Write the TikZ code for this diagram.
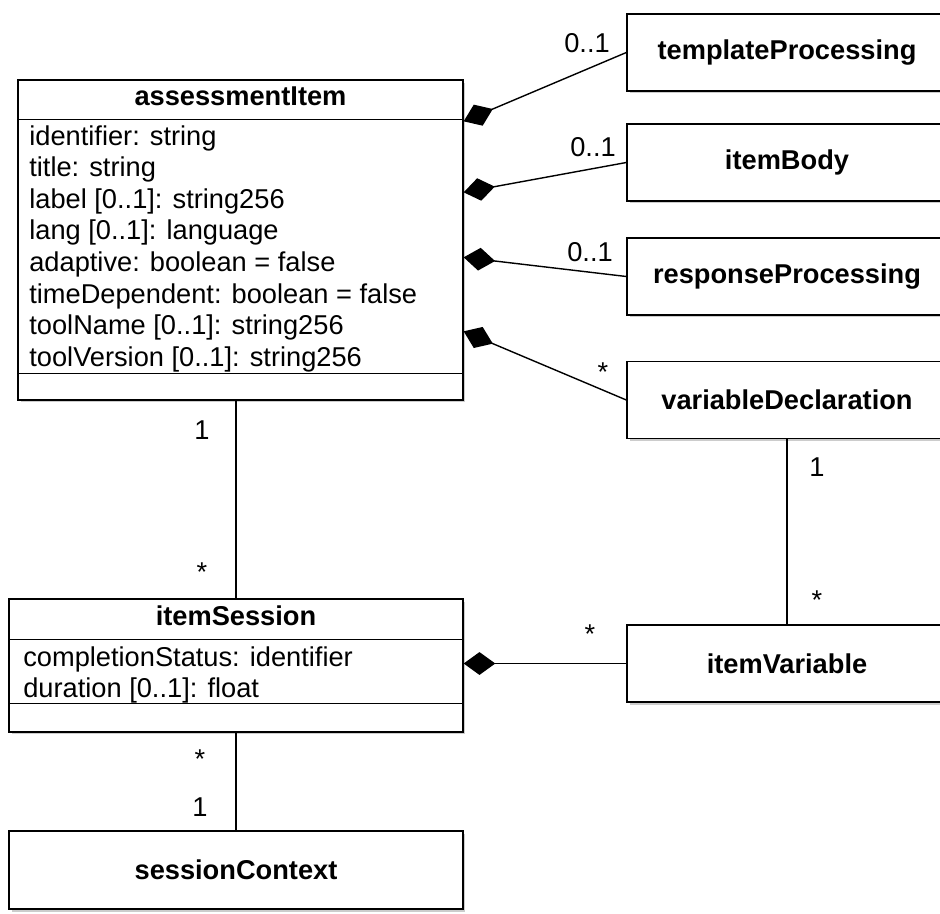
\documentclass[tikz,border=0pt]{standalone}
\usepackage{fontspec}
\setmainfont{Liberation Sans}
\usetikzlibrary{arrows.meta, positioning, calc, shadows}

\begin{document}
\begin{tikzpicture}[x=0.02cm, y=-0.02cm, >={Diamond[length=18pt,width=13pt]},
		font=\fontsize{15.5}{18}\selectfont,
		cls/.style={draw, fill=white, line width=0.8pt, inner sep=0pt,
			drop shadow={shadow xshift=0.05cm, shadow yshift=-0.05cm, opacity=0.4}},
		box/.style={cls, minimum width=6.4cm, minimum height=1.54cm, font=\fontsize{15.5}{18}\selectfont\bfseries},
		title/.style={anchor=base, inner sep=0pt, font=\fontsize{15.5}{18}\selectfont\bfseries},
		attrs/.style={anchor=north west, align=left, inner sep=0pt},
		assoc/.style={line width=0.8pt},
		mult/.style={inner sep=1pt}]
		
		\useasboundingbox (0,0) rectangle (940,913);
		\clip (0,0) rectangle (940,913);
		
		% left column
		\node[cls, minimum width=8.9cm, minimum height=6.4cm] (ai) at (240.5,240) {};
		\node[title] (aititle) at (240.5,105) {assessmentItem};
		\node[attrs] (aiattrs) at (29,125) {identifier: string\\ title: string\\ label [0..1]: string256\\
			lang [0..1]: language\\ adaptive: boolean = false\\ timeDependent: boolean = false\\
			toolName [0..1]: string256\\ toolVersion [0..1]: string256};
		\draw[assoc] ($(ai.north west)+(0,40)$) -- ($(ai.north east)+(0,40)$);
		\draw[assoc] ($(ai.south west)+(0,-27)$) -- ($(ai.south east)+(0,-27)$);
		
		\node[cls, minimum width=9.08cm, minimum height=2.66cm] (is) at (236,665.5) {};
		\node[title] (istitle) at (236,625) {itemSession};
		\node[attrs] (isattrs) at (23,646) {completionStatus: identifier\\ duration [0..1]: float};
		\draw[assoc] ($(is.north west)+(0,41)$) -- ($(is.north east)+(0,41)$);
		\draw[assoc] ($(is.south west)+(0,-29)$) -- ($(is.south east)+(0,-29)$);
		
		\node[cls, minimum width=9.08cm, minimum height=1.56cm, font=\fontsize{15.5}{18}\selectfont\bfseries] (sc) at (236,870) {sessionContext};
		
		% right column
		\node[box] (tp) at (787,52.5) {templateProcessing};
		\node[box] (ib) at (787,162.5) {itemBody};
		\node[box] (rp) at (787,276.5) {responseProcessing};
		\node[box] (vd) at (787,400) {variableDeclaration};
		\node[box] (iv) at (787,663.5) {itemVariable};
		
		\coordinate (ai1) at ($(ai.north east)+(0,42)$);
		\coordinate (ai2) at ($(ai.north east)+(0,113)$);
		\coordinate (ai3) at ($(ai.north east)+(0,178)$);
		\coordinate (ai4) at ($(ai.north east)+(0,252)$);
		
		\path[assoc, ->]
		(tp.west) edge (ai1)
		(ib.west) edge (ai2)
		(rp.west) edge (ai3)
		(vd.west) edge (ai4)
		(iv.west) edge (iv.west -| is.east);
		
		\draw[assoc] (is.north) -- (is.north |- ai.south);
		\draw[assoc] (vd.south) -- (iv.north);
		\draw[assoc] (is.south) -- (sc.north);
		
		% multiplicities
		\node[mult] (m1) at (587,43) {0..1};
		\node[mult] (m2) at (593,147) {0..1};
		\node[mult] (m3) at (590,252) {0..1};
		\node[mult] (m4) at (603,372) {*};
		\node[mult] (m5) at (202,430) {1};
		\node[mult] (m6) at (202,572) {*};
		\node[mult] (m7) at (817,467) {1};
		\node[mult] (m8) at (817,600) {*};
		\node[mult] (m9) at (590,634) {*};
		\node[mult] (m10) at (200,759) {*};
		\node[mult] (m11) at (200,807) {1};
\end{tikzpicture}
\end{document}
